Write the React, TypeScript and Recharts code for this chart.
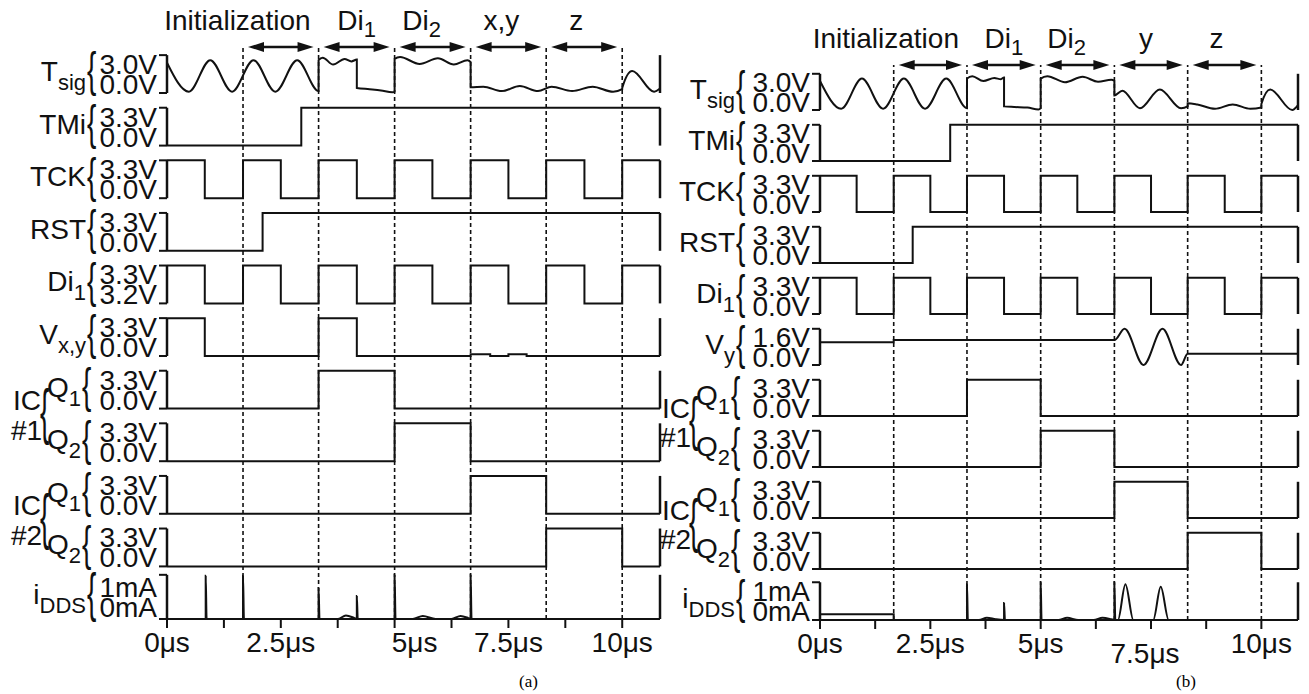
import React from 'react'
import { LineChart, Line, XAxis, YAxis, ReferenceLine } from 'recharts'

const FONT = '"Liberation Sans", Arial, sans-serif'
const INK = '#111'

const T_END = 10.83
const CLOCK_EDGES = [1.67, 3.33, 5, 6.67, 8.33, 10]
const TIME_TICKS = [0, 1.25, 2.5, 3.75, 5, 6.25, 7.5, 8.75, 10]
const TIME_LABELS: Record<string, string> = { '0': '0μs', '2.5': '2.5μs', '5': '5μs', '7.5': '7.5μs', '10': '10μs' }

// waveforms as [time (μs), value]
const TCK = [[0, 3.3], [0.83, 0], [1.67, 3.3], [2.5, 0], [3.33, 3.3], [4.17, 0], [5, 3.3], [5.83, 0], [6.67, 3.3], [7.5, 0], [8.33, 3.3], [9.17, 0], [10, 3.3], [10.83, 3.3]]
const DI1_A = [[0, 3.3], [0.83, 3.2], [1.67, 3.3], [2.5, 3.2], [3.33, 3.3], [4.17, 3.2], [5, 3.3], [5.83, 3.2], [6.67, 3.3], [7.5, 3.2], [8.33, 3.3], [9.17, 3.2], [10, 3.3], [10.83, 3.3]]
const TMI = [[0, 0], [2.95, 3.3], [10.83, 3.3]]
const RST = [[0, 0], [2.1, 3.3], [10.83, 3.3]]
const VXY_A = [[0, 3.3], [0.83, 0], [3.33, 3.3], [4.17, 0], [6.67, 0.15], [7.1, 0], [7.5, 0.15], [7.9, 0], [10.83, 0]]
const Q1_IC1 = [[0, 0], [3.33, 3.3], [5, 0], [10.83, 0]]
const Q2_IC1 = [[0, 0], [5, 3.3], [6.67, 0], [10.83, 0]]
const Q1_IC2 = [[0, 0], [6.67, 3.3], [8.33, 0], [10.83, 0]]
const Q2_IC2 = [[0, 0], [8.33, 3.3], [10, 0], [10.83, 0]]

const TSIG_A = [
  [0, 2.4], [0.48, 0.1], [0.95, 2.6], [1.43, 0.1], [1.9, 2.6], [2.38, 0.1], [2.86, 2.6], [3.33, 0.15],
  [3.33, 2.6], [3.42, 2.8], [3.65, 2.25], [3.9, 2.7], [4.05, 2.5], [4.17, 2.65],
  [4.17, 0.4], [4.45, 0.3], [4.7, 0.2], [4.95, 0.05], [5, 0.1],
  [5, 2.7], [5.12, 2.85], [5.55, 2.3], [5.95, 2.75], [6.3, 2.25], [6.6, 2.6], [6.67, 2.45],
  [6.67, 0.45], [6.95, 0.5], [7.35, 0.15], [7.75, 0.55], [8.15, 0.15], [8.45, 0.5], [8.9, 0.15], [9.35, 0.5], [9.8, 0.1], [10, 0.3],
  [10, 0.4], [10.22, 1.75], [10.7, 0.1], [10.83, 0.35],
]
const TSIG_B = [
  [0, 2.4], [0.48, 0.1], [0.95, 2.6], [1.43, 0.1], [1.9, 2.6], [2.38, 0.1], [2.86, 2.6], [3.33, 0.15],
  [3.33, 2.6], [3.45, 2.8], [3.7, 2.4], [3.95, 2.65], [4.1, 2.55], [4.17, 2.7],
  [4.17, 0.3], [4.4, 0.25], [4.7, 0.2], [4.95, 0.05], [5, 0.15],
  [5, 2.6], [5.15, 2.8], [5.55, 2.3], [5.95, 2.75], [6.3, 2.35], [6.6, 2.5], [6.67, 2.4],
  [6.67, 1.2], [6.85, 1.6], [7.25, 0.15], [7.7, 1.7], [8.18, 0.15], [8.33, 0.3],
  [8.33, 0.55], [8.55, 0.45], [8.95, 0.1], [9.35, 0.45], [9.75, 0.1], [10, 0.2],
  [10, 0.5], [10.2, 1.7], [10.7, 0.0], [10.83, 0.4],
]
const VY_B = [[0, 1.0], [1.67, 1.0], [1.67, 1.1], [6.67, 1.1], [6.9, 1.6], [7.33, 0], [7.76, 1.6], [8.18, 0], [8.33, 0.5], [10.83, 0.5]]

const IDDS_A = [
  [0, 0], [0.85, 0], [0.85, 0.98], [0.87, 0], [1.67, 0], [1.67, 0.98], [1.69, 0],
  [3.33, 0], [3.33, 0.7], [3.35, 0], [3.75, 0], [3.93, 0.08], [4.12, 0.02], [4.17, 0], [4.17, 0.52], [4.19, 0],
  [5, 0], [5, 1], [5.02, 0], [5.4, 0], [5.62, 0.07], [5.9, 0], [6.25, 0], [6.45, 0.07], [6.62, 0.02], [6.67, 0], [6.67, 1], [6.69, 0],
  [10.83, 0],
]
const IDDS_B = [
  [0, 0.15], [1.67, 0.15], [1.67, 0], [3.33, 0], [3.33, 0.95], [3.35, 0], [3.6, 0], [3.78, 0.06], [3.98, 0.02], [4.17, 0], [4.17, 0.45], [4.19, 0],
  [5, 0], [5, 1], [5.02, 0], [5.4, 0], [5.6, 0.06], [5.85, 0], [6.2, 0], [6.4, 0.06], [6.6, 0.02], [6.67, 0], [6.67, 1], [6.69, 0],
  [6.75, 0], [6.92, 0.95], [7.1, 0], [7.55, 0], [7.72, 0.88], [7.9, 0],
  [10.83, 0],
]

type Row = {
  name: string; sub?: string; ic?: string
  lo: number; hi: number; loLabel: string; hiLabel: string
  curve: 'stepAfter' | 'monotone'; pts: number[][]
}

const V33 = { lo: 0, hi: 3.3, loLabel: '0.0V', hiLabel: '3.3V', curve: 'stepAfter' as const }

const ROWS_A: Row[] = [
  { name: 'T', sub: 'sig', lo: 0, hi: 3.0, loLabel: '0.0V', hiLabel: '3.0V', curve: 'monotone', pts: TSIG_A },
  { name: 'TMi', ...V33, pts: TMI },
  { name: 'TCK', ...V33, pts: TCK },
  { name: 'RST', ...V33, pts: RST },
  { name: 'Di', sub: '1', ...V33, lo: 3.2, loLabel: '3.2V', pts: DI1_A },
  { name: 'V', sub: 'x,y', ...V33, pts: VXY_A },
  { name: 'Q', sub: '1', ic: '#1', ...V33, pts: Q1_IC1 },
  { name: 'Q', sub: '2', ...V33, pts: Q2_IC1 },
  { name: 'Q', sub: '1', ic: '#2', ...V33, pts: Q1_IC2 },
  { name: 'Q', sub: '2', ...V33, pts: Q2_IC2 },
  { name: 'i', sub: 'DDS', lo: 0, hi: 1, loLabel: '0mA', hiLabel: '1mA', curve: 'monotone', pts: IDDS_A },
]

const ROWS_B: Row[] = [
  { name: 'T', sub: 'sig', lo: 0, hi: 3.0, loLabel: '0.0V', hiLabel: '3.0V', curve: 'monotone', pts: TSIG_B },
  { name: 'TMi', ...V33, pts: TMI },
  { name: 'TCK', ...V33, pts: TCK },
  { name: 'RST', ...V33, pts: RST },
  { name: 'Di', sub: '1', ...V33, pts: TCK },
  { name: 'V', sub: 'y', lo: 0, hi: 1.6, loLabel: '0.0V', hiLabel: '1.6V', curve: 'monotone', pts: VY_B },
  { name: 'Q', sub: '1', ic: '#1', ...V33, pts: Q1_IC1 },
  { name: 'Q', sub: '2', ...V33, pts: Q2_IC1 },
  { name: 'Q', sub: '1', ic: '#2', ...V33, pts: Q1_IC2 },
  { name: 'Q', sub: '2', ...V33, pts: Q2_IC2 },
  { name: 'i', sub: 'DDS', lo: 0, hi: 1, loLabel: '0mA', hiLabel: '1mA', curve: 'monotone', pts: IDDS_B },
]

const PHASES_A = [
  { label: 'Initialization', from: 1.67, to: 3.33 },
  { label: 'Di', sub: '1', from: 3.33, to: 5 },
  { label: 'Di', sub: '2', from: 5, to: 6.67 },
  { label: 'x,y', from: 6.67, to: 8.33 },
  { label: 'z', from: 8.33, to: 10 },
]
const PHASES_B = [
  { label: 'Initialization', from: 1.67, to: 3.33 },
  { label: 'Di', sub: '1', from: 3.33, to: 5 },
  { label: 'Di', sub: '2', from: 5, to: 6.67 },
  { label: 'y', from: 6.67, to: 8.33 },
  { label: 'z', from: 8.33, to: 10 },
]

type Cfg = {
  chartLeft: number; width: number; plotLeft: number; plotRight: number
  top: number; axisY: number; pitch: number; amp: number; lastAmp: number
  nameShift: number
  tickShift: Record<string, [number, number]>
}

const CFG_A: Cfg = { chartLeft: 0, width: 668, plotLeft: 167, plotRight: 660, top: 47, axisY: 619, pitch: 52.6, amp: 0.72, lastAmp: 0.84, nameShift: 0, tickShift: { '5μs': [20, 0] } }
const CFG_B: Cfg = { chartLeft: 660, width: 649, plotLeft: 820, plotRight: 1298, top: 65, axisY: 620, pitch: 51, amp: 0.71, lastAmp: 0.74, nameShift: -4, tickShift: { '7.5μs': [-6, 10] } }

const LABEL_DX: Record<string, number> = { Di2: -11, 'x,y': -7, y: -5, z: -8 }

const Brace = ({ x, cy, h }: { x: number; cy: number; h: number }) => (
  <text
    transform={`translate(${x},${cy}) scale(1,${h / 26})`}
    y={7.3} fontSize={28} fontFamily={FONT} fill={INK}
  >{'{'}</text>
)

function Name({ x, y, name, sub }: { x: number; y: number; name: string; sub?: string }) {
  return (
    <text x={x} y={y} textAnchor="end" fontSize={28} fontFamily={FONT} fill={INK}>
      {name}
      {sub && <tspan fontSize={22} dy={9}>{sub}</tspan>}
    </text>
  )
}

function Panel({ cfg, rows, phases }: { cfg: Cfg; rows: Row[]; phases: typeof PHASES_A }) {
  const n = rows.length
  const yMax = (cfg.axisY - cfg.top) / cfg.pitch
  const ampOf = (i: number) => (i === n - 1 ? cfg.lastAmp : cfg.amp)
  const baseOf = (i: number) => n - 1 - i
  const series = rows.map((r, i) => ({
    ...r,
    data: r.pts.map(([t, v]) => ({ t, y: baseOf(i) + ((v - r.lo) / (r.hi - r.lo)) * ampOf(i) })),
  }))
  const ticks = rows.flatMap((_, i) => [baseOf(i), baseOf(i) + ampOf(i)])

  const yTick = (p: any) => {
    const idx = ticks.findIndex(v => Math.abs(v - p.payload.value) < 1e-6)
    if (idx < 0) return <g />
    const i = Math.floor(idx / 2)
    const hi = idx % 2 === 1
    const r = rows[i]
    const ampPx = ampOf(i) * cfg.pitch
    const cy = hi ? p.y + ampPx / 2 : p.y - ampPx / 2
    const x = p.x
    const nx = x + cfg.nameShift
    const braceX = nx - (r.name === 'Q' ? 75 : 70)
    return (
      <g>
        <text x={x} y={hi ? cy : cy + 20} textAnchor="end" fontSize={28} fontFamily={FONT} fill={INK}>
          {hi ? r.hiLabel : r.loLabel}
        </text>
        {hi && <Brace x={braceX} cy={cy} h={ampPx + 6} />}
        {hi && <Name x={braceX - 1} y={cy + 7} name={r.name} sub={r.sub} />}
        {hi && r.ic && (
          <g>
            <text x={nx - 144} y={cy + 20} fontSize={28} fontFamily={FONT} fill={INK}>IC</text>
            <text x={nx - 146} y={cy + cfg.pitch - 2} fontSize={28} fontFamily={FONT} fill={INK}>{r.ic}</text>
            <Brace x={nx - 117} cy={cy + cfg.pitch / 2} h={cfg.pitch + 4} />
          </g>
        )}
      </g>
    )
  }

  const xTick = (p: any) => {
    const lab = TIME_LABELS[String(p.payload.value)]
    if (!lab) return <g />
    const [dx, dy] = cfg.tickShift[lab] ?? [0, 0]
    return (
      <text x={p.x + dx} y={p.y + 22 + dy} textAnchor="middle" fontSize={28} fontFamily={FONT} fill={INK}>{lab}</text>
    )
  }

  const arrow = (ph: (typeof PHASES_A)[number]) => (p: any) => {
    const a = p.x1 + 5
    const b = p.x2 - 5
    const y = p.y1
    const key = ph.label + (ph.sub ?? '')
    const init = ph.label === 'Initialization'
    return (
      <g>
        <line x1={a + 10} x2={b - 10} y1={y} y2={y} stroke={INK} strokeWidth={2.5} />
        <polygon points={`${a},${y} ${a + 16},${y - 5} ${a + 16},${y + 5}`} fill={INK} />
        <polygon points={`${b},${y} ${b - 16},${y - 5} ${b - 16},${y + 5}`} fill={INK} />
        <text
          x={init ? b - 3 : (a + b) / 2 + (LABEL_DX[key] ?? 0)} y={y - 17}
          textAnchor={init ? 'end' : 'middle'} fontSize={28} fontFamily={FONT} fill={INK}
        >
          {ph.label}
          {ph.sub && <tspan fontSize={22} dy={7}>{ph.sub}</tspan>}
        </text>
      </g>
    )
  }

  return (
    <div style={{ position: 'absolute', left: cfg.chartLeft, top: 0 }}>
      <LineChart
        width={cfg.width}
        height={694}
        margin={{ top: cfg.top, right: cfg.width - (cfg.plotRight - cfg.chartLeft), left: 0, bottom: 694 - cfg.axisY - 40 }}
      >
        <XAxis
          type="number" dataKey="t" domain={[0, T_END]} allowDataOverflow
          ticks={TIME_TICKS} interval={0} height={40}
          tickSize={9} tickMargin={2} tick={xTick}
          axisLine={{ stroke: INK, strokeWidth: 2 }} tickLine={{ stroke: INK, strokeWidth: 2 }}
        />
        <YAxis
          type="number" domain={[0, yMax]} allowDataOverflow
          ticks={ticks} interval={0} width={cfg.plotLeft - cfg.chartLeft}
          tickSize={8} tickMargin={2} tick={yTick}
          axisLine={false} tickLine={{ stroke: INK, strokeWidth: 2 }}
        />
        {CLOCK_EDGES.map(t => (
          <ReferenceLine key={`d${t}`} x={t} stroke={INK} strokeWidth={1.6} strokeDasharray="4 3" />
        ))}
        {rows.map((_, i) => (
          <ReferenceLine key={`l${i}`} segment={[{ x: 0, y: baseOf(i) }, { x: 0, y: baseOf(i) + ampOf(i) }]} stroke={INK} strokeWidth={2.5} />
        ))}
        {rows.map((_, i) => (
          <ReferenceLine key={`r${i}`} segment={[{ x: T_END, y: baseOf(i) }, { x: T_END, y: baseOf(i) + ampOf(i) }]} stroke={INK} strokeWidth={2.5} />
        ))}
        {phases.map(ph => (
          <ReferenceLine
            key={`p${ph.label}${ph.sub ?? ''}`}
            segment={[{ x: ph.from, y: yMax }, { x: ph.to, y: yMax }]}
            ifOverflow="visible"
            shape={arrow(ph)}
          />
        ))}
        {series.map((s, i) => (
          <Line
            key={`s${i}`}
            data={s.data}
            dataKey="y"
            type={s.curve}
            stroke={INK}
            strokeWidth={2}
            dot={false}
            activeDot={false}
            isAnimationActive={false}
          />
        ))}
      </LineChart>
    </div>
  )
}

export default function App() {
  return (
    <div style={{ position: 'absolute', left: 0, top: 0, width: 1309, height: 694, background: '#fff', overflow: 'hidden' }}>
      <Panel cfg={CFG_A} rows={ROWS_A} phases={PHASES_A} />
      <Panel cfg={CFG_B} rows={ROWS_B} phases={PHASES_B} />
      <div style={{ position: 'absolute', left: 519, top: 672, fontFamily: '"Liberation Serif", "Times New Roman", serif', fontSize: 17 }}>(a)</div>
      <div style={{ position: 'absolute', left: 1176, top: 672, fontFamily: '"Liberation Serif", "Times New Roman", serif', fontSize: 17 }}>(b)</div>
    </div>
  )
}
